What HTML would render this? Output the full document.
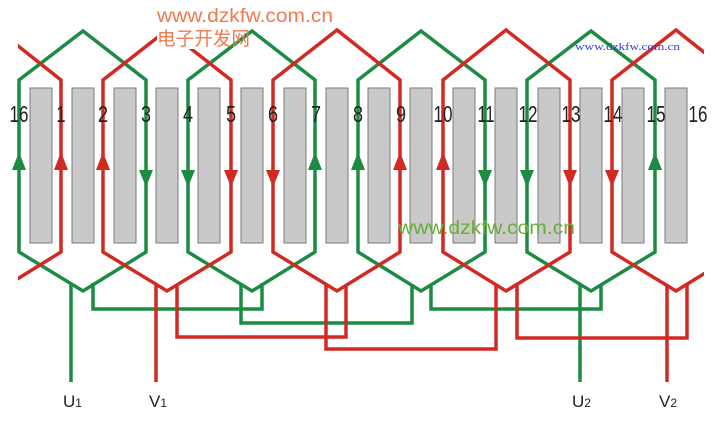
<!DOCTYPE html>
<html><head><meta charset="utf-8"><style>
html,body{margin:0;padding:0;background:#fff;}
svg{display:block;}
</style></head><body>
<svg width="715" height="438" viewBox="0 0 715 438" xmlns="http://www.w3.org/2000/svg">
<defs><clipPath id="c"><rect x="18" y="0" width="686" height="438"/></clipPath></defs>
<rect width="715" height="438" fill="#fff"/>
<!-- bars -->
<g fill="#c9c9c9" stroke="#7a7a7a" stroke-width="1">
<rect x="30" y="88" width="22" height="155"/><rect x="72" y="88" width="22" height="155"/>
<rect x="114" y="88" width="22" height="155"/><rect x="156" y="88" width="22" height="155"/>
<rect x="198" y="88" width="22" height="155"/><rect x="241" y="88" width="22" height="155"/>
<rect x="284" y="88" width="22" height="155"/><rect x="326" y="88" width="22" height="155"/>
<rect x="368" y="88" width="22" height="155"/><rect x="410" y="88" width="22" height="155"/>
<rect x="453" y="88" width="22" height="155"/><rect x="495" y="88" width="22" height="155"/>
<rect x="538" y="88" width="22" height="155"/><rect x="580" y="88" width="22" height="155"/>
<rect x="622" y="88" width="22" height="155"/><rect x="665" y="88" width="22" height="155"/>
</g>
<g fill="none" stroke-width="3.5" stroke-linejoin="miter">
<g stroke="#1c8c42">
<path d="M19,252 L19,80 L83,31 L146,80 L146,252 L83,291 Z"/>
<path d="M188,252 L188,80 L252,31 L315,80 L315,252 L252,291 Z"/>
<path d="M358,252 L358,80 L421,31 L485,80 L485,252 L421,291 Z"/>
<path d="M527,252 L527,80 L591,31 L655,80 L655,252 L591,291 Z"/>
<path d="M71,283 L71,382"/>
<path d="M93,283 L93,309 L262,309 L262,283"/>
<path d="M241,283 L241,323 L412,323 L412,284"/>
<path d="M431,284 L431,309 L601,309 L601,284"/>
<path d="M580,284 L580,382"/>
</g>
<g stroke="#d22a22">
<path d="M103,252 L103,80 L167,30 L231,80 L231,252 L167,291 Z"/>
<path d="M273,252 L273,80 L337,30 L400,80 L400,252 L337,291 Z"/>
<path d="M443,252 L443,80 L506,30 L570,80 L570,252 L506,291 Z"/>
<g clip-path="url(#c)">
<path d="M612,252 L612,80 L676,30 L739,80 L739,252 L676,291 Z"/>
<path d="M-66,252 L-66,80 L-2,30 L61,80 L61,252 L-2,291 Z"/>
</g>
<path d="M156,284 L156,382"/>
<path d="M177,284 L177,337 L346,337 L346,285"/>
<path d="M326,285 L326,349 L496,349 L496,285"/>
<path d="M517,285 L517,338 L687,338 L687,284"/>
<path d="M667,284 L667,382"/>
</g>
</g>
<rect x="157" y="25" width="57" height="24" fill="#fff"/>
<!-- arrows -->
<g fill="#1c8c42">
<path d="M12,170 L26,170 L19,152 Z"/><path d="M308,170 L322,170 L315,152 Z"/>
<path d="M351,170 L365,170 L358,152 Z"/><path d="M648,170 L662,170 L655,152 Z"/>
<path d="M139,170 L153,170 L146,187 Z"/><path d="M181,170 L195,170 L188,187 Z"/>
<path d="M478,170 L492,170 L485,187 Z"/><path d="M520,170 L534,170 L527,187 Z"/>
</g>
<g fill="#d22a22">
<path d="M54,170 L68,170 L61,152 Z"/><path d="M96,170 L110,170 L103,152 Z"/>
<path d="M393,170 L407,170 L400,152 Z"/><path d="M436,170 L450,170 L443,152 Z"/>
<path d="M224,170 L238,170 L231,187 Z"/><path d="M266,170 L280,170 L273,187 Z"/>
<path d="M563,170 L577,170 L570,187 Z"/><path d="M605,170 L619,170 L612,187 Z"/>
</g>
<!-- slot numbers -->
<g font-family="Liberation Sans, sans-serif" font-size="23" fill="#222" text-anchor="middle" lengthAdjust="spacingAndGlyphs">
<text x="19" y="122" textLength="19" lengthAdjust="spacingAndGlyphs">16</text>
<text x="61" y="122" textLength="9" lengthAdjust="spacingAndGlyphs">1</text>
<text x="103" y="122" textLength="10" lengthAdjust="spacingAndGlyphs">2</text>
<text x="146" y="122" textLength="10" lengthAdjust="spacingAndGlyphs">3</text>
<text x="188" y="122" textLength="10" lengthAdjust="spacingAndGlyphs">4</text>
<text x="231" y="122" textLength="10" lengthAdjust="spacingAndGlyphs">5</text>
<text x="273" y="122" textLength="10" lengthAdjust="spacingAndGlyphs">6</text>
<text x="316" y="122" textLength="10" lengthAdjust="spacingAndGlyphs">7</text>
<text x="358" y="122" textLength="10" lengthAdjust="spacingAndGlyphs">8</text>
<text x="401" y="122" textLength="10" lengthAdjust="spacingAndGlyphs">9</text>
<text x="443" y="122" textLength="19" lengthAdjust="spacingAndGlyphs">10</text>
<text x="486" y="122" textLength="17" lengthAdjust="spacingAndGlyphs">11</text>
<text x="528" y="122" textLength="19" lengthAdjust="spacingAndGlyphs">12</text>
<text x="571" y="122" textLength="19" lengthAdjust="spacingAndGlyphs">13</text>
<text x="613" y="122" textLength="19" lengthAdjust="spacingAndGlyphs">14</text>
<text x="656" y="122" textLength="19" lengthAdjust="spacingAndGlyphs">15</text>
<text x="698" y="122" textLength="19" lengthAdjust="spacingAndGlyphs">16</text>
</g>
<g font-family="Liberation Sans, sans-serif" font-size="17" fill="#222">
<text x="63" y="407">U<tspan font-size="12">1</tspan></text>
<text x="149" y="407">V<tspan font-size="12">1</tspan></text>
<text x="572" y="407">U<tspan font-size="12">2</tspan></text>
<text x="659" y="407">V<tspan font-size="12">2</tspan></text>
</g>
<!-- watermarks -->
<text x="157" y="22" font-family="Liberation Sans, sans-serif" font-size="19" fill="#f07a50" textLength="176" lengthAdjust="spacingAndGlyphs">www.dzkfw.com.cn</text>
<text x="157" y="45" font-family="Liberation Sans, 'Noto Sans CJK SC', sans-serif" font-size="19" fill="#f07a50" textLength="93" lengthAdjust="spacingAndGlyphs">电子开发网</text>
<text x="575" y="50" font-family="Liberation Serif, serif" font-size="11" fill="#2a3ee8" textLength="105" lengthAdjust="spacingAndGlyphs">www.dzkfw.com.cn</text>
<text x="398" y="234" font-family="Liberation Sans, sans-serif" font-size="19" fill="#6aae3a" textLength="177" lengthAdjust="spacingAndGlyphs">www.dzkfw.com.cn</text>
</svg>
</body></html>
